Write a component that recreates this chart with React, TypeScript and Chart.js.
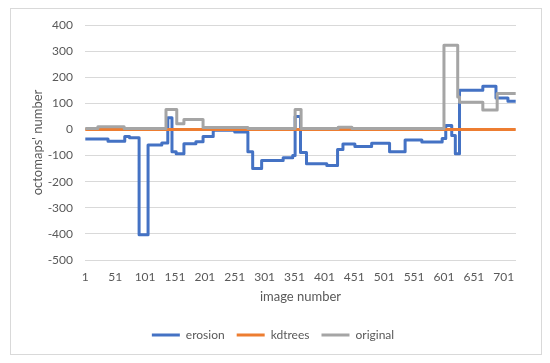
import React, { useEffect, useRef } from "react";
import { Chart, registerables } from "chart.js";

Chart.register(...registerables);

const xTickValues = [1, 51, 101, 151, 201, 251, 301, 351, 401, 451, 501, 551, 601, 651, 701];
const imageCount = 721;

const erosionX = [1, 39, 67, 75, 91, 106, 129, 139, 146, 153, 166, 186, 198, 215, 251, 273, 281, 296, 332, 348, 352, 361, 371, 405, 423, 432, 452, 480, 510, 536, 564, 598, 604, 614, 620, 627, 666, 688, 708, 721];
const erosionY = [-37, -45, -27, -32, -403, -60, -52, 45, -85, -93, -55, -47, -27, -3, -10, -85, -150, -119, -108, -100, 50, -88, -131, -138, -77, -56, -65, -53, -85, -40, -48, -35, 15, -23, -93, 150, 165, 120, 108, 108];

const kdtreesX = [1, 721];
const kdtreesY = [0, 0];

const originalX = [1, 22, 66, 136, 154, 166, 198, 273, 352, 362, 424, 447, 601, 624, 627, 666, 690, 721];
const originalY = [4, 10, 4, 76, 22, 38, 7, 4, 76, 4, 8, 4, 322, 124, 104, 74, 138, 138];

const FONT = "Lato, 'Open Sans', sans-serif";
const TEXT = "#595959";

const toPoints = (xs: number[], ys: number[]) => xs.map((x, i) => ({ x, y: ys[i] }));

const borderPlugin = {
  id: "outerBorder",
  beforeDraw(chart: any) {
    const ctx = chart.ctx;
    ctx.save();
    ctx.fillStyle = "#ffffff";
    ctx.fillRect(0, 0, chart.width, chart.height);
    ctx.strokeStyle = "#d9d9d9";
    ctx.lineWidth = 1;
    ctx.strokeRect(10.5, 8.5, 531, 346);
    ctx.restore();
  },
};

export default function App() {
  const ref = useRef<HTMLCanvasElement | null>(null);

  useEffect(() => {
    if (!ref.current) return;
    const chart = new Chart(ref.current, {
      type: "line",
      data: {
        datasets: [
          {
            label: "erosion",
            data: toPoints(erosionX, erosionY),
            borderColor: "#4472C4",
            backgroundColor: "#4472C4",
            borderWidth: 3,
            stepped: true,
            pointRadius: 0,
            borderJoinStyle: "round",
            order: 2,
          },
          {
            label: "kdtrees",
            data: toPoints(kdtreesX, kdtreesY),
            borderColor: "#ED7D31",
            backgroundColor: "#ED7D31",
            borderWidth: 3,
            stepped: true,
            pointRadius: 0,
            order: 1,
          },
          {
            label: "original",
            data: toPoints(originalX, originalY),
            borderColor: "#A5A5A5",
            backgroundColor: "#A5A5A5",
            borderWidth: 3,
            stepped: true,
            pointRadius: 0,
            borderJoinStyle: "round",
            order: 0,
          },
        ],
      },
      options: {
        responsive: false,
        animation: false,
        layout: { padding: { left: 30, top: 25, right: 34, bottom: 12 } },
        scales: {
          x: {
            type: "linear",
            min: 0.5,
            max: imageCount + 0.5,
            afterBuildTicks: (scale: any) => {
              scale.ticks = xTickValues.map((v) => ({ value: v }));
            },
            afterFit: (scale: any) => {
              scale.height = 57;
            },
            grid: { display: false, drawTicks: false },
            border: { display: false },
            ticks: {
              autoSkip: false,
              maxRotation: 0,
              padding: 10,
              color: TEXT,
              font: { family: FONT, size: 12 },
              callback: (v: any) => String(v),
            },
            title: {
              display: true,
              text: "image number",
              color: TEXT,
              font: { family: FONT, size: 13 },
              padding: { top: 0, bottom: 12 },
            },
          },
          y: {
            min: -500,
            max: 400,
            afterFit: (scale: any) => {
              scale.width = 55;
            },
            ticks: {
              stepSize: 100,
              padding: 12,
              color: TEXT,
              font: { family: FONT, size: 12 },
            },
            grid: { color: "#d9d9d9", drawTicks: false, lineWidth: 1 },
            border: { display: false },
            title: {
              display: true,
              text: "octomaps' number",
              color: TEXT,
              font: { family: FONT, size: 13 },
              padding: { top: 0, bottom: 0 },
            },
          },
        },
        plugins: {
          tooltip: { enabled: false },
          legend: {
            position: "bottom",
            labels: {
              boxWidth: 28,
              boxHeight: 3,
              padding: 12,
              color: TEXT,
              font: { family: FONT, size: 12 },
              generateLabels: (c: any) => {
                const items = Chart.defaults.plugins.legend.labels.generateLabels(c);
                return items
                  .sort((a: any, b: any) => a.datasetIndex - b.datasetIndex)
                  .map((it: any) => ({ ...it, lineWidth: 0, fillStyle: it.strokeStyle }));
              },
            },
          },
        },
      },
      plugins: [borderPlugin],
    });
    return () => chart.destroy();
  }, []);

  return (
    <div style={{ position: "fixed", left: 0, top: 0, width: 550, height: 363 }}>
      <canvas ref={ref} width={550} height={363} style={{ width: 550, height: 363 }} />
    </div>
  );
}
